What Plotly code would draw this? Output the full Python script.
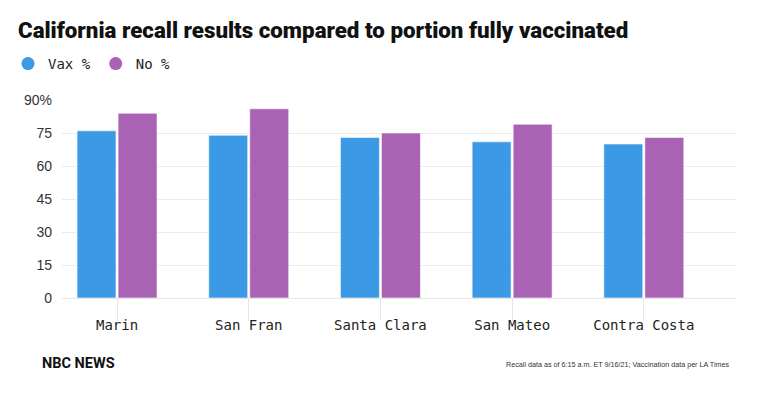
import plotly.graph_objects as go

counties = ["Marin", "San Fran", "Santa Clara", "San Mateo", "Contra Costa"]
vax_pct = [76, 74, 73, 71, 70]
no_pct = [84, 86, 75, 79, 73]
y_ticks = [0, 15, 30, 45, 60, 75, 90]
y_tick_labels = ["0", "15", "30", "45", "60", "75", "90%"]

BLUE = "#3b99e5"
PURPLE = "#a962b4"
MONO = "DejaVu Sans Mono"
SANS = "Liberation Sans"

# page body has an 8px margin; figure is sized/positioned to compensate
OFF = 8
W, H = 760 - 2 * OFF, 399 - 2 * OFF
L, R, T, B = 62 - OFF, 760 - 736 - OFF, 100 - OFF, 399 - 298 - OFF

def cx(p):
    return (p - OFF) / W

def cy(p):
    return 1 - (p - OFF) / H

fig = go.Figure()
fig.add_trace(go.Bar(x=counties, y=vax_pct, name="Vax %", marker_color=BLUE,
                     marker_line=dict(color="rgba(255,255,255,0.6)", width=1),
                     showlegend=False))
fig.add_trace(go.Bar(x=counties, y=no_pct, name="No %", marker_color=PURPLE,
                     marker_line=dict(color="rgba(255,255,255,0.6)", width=1),
                     showlegend=False))
for nm, col in [("Vax %", BLUE), ("No %", PURPLE)]:
    fig.add_trace(go.Scatter(x=[None], y=[None], mode="markers", name=nm,
                             marker=dict(color=col, size=13, symbol="circle")))

fig.update_layout(
    template="none",
    width=W, height=H,
    margin=dict(l=L, r=R, t=T, b=B, pad=0, autoexpand=False),
    paper_bgcolor="white", plot_bgcolor="white",
    barmode="group", bargap=0.377, bargroupgap=0.05,
    title=dict(text="California recall results compared to portion fully vaccinated",
               x=cx(18), xanchor="left", xref="container",
               y=cy(30), yanchor="middle", yref="container",
               font=dict(family="Roboto", size=22.3, color="#111", weight=900)),
    legend=dict(orientation="h", x=cx(0), xanchor="left", y=cy(64), yanchor="middle",
                xref="container", yref="container",
                font=dict(family=MONO, size=14, color="#222"), itemwidth=30,
                bgcolor="rgba(0,0,0,0)", borderwidth=0),
    xaxis=dict(range=[-0.418, 4.70], showgrid=False, ticks="outside", ticklen=22,
               tickcolor="#e6e6e6", tickwidth=1, ticklabelstandoff=-8,
               tickfont=dict(family=MONO, size=14, color="#222"), zeroline=False,
               showline=False, automargin=False),
    yaxis=dict(range=[0, 90], tickvals=y_ticks, ticktext=y_tick_labels,
               showgrid=True, gridcolor="#ebebeb", gridwidth=1,
               zeroline=True, zerolinecolor="#e6e6e6", zerolinewidth=1,
               ticks="", ticklabelstandoff=9, automargin=False, showline=False,
               tickfont=dict(family=SANS, size=14, color="#333")),
    annotations=[
        dict(text="<b>NBC NEWS</b>", x=cx(40), y=cy(363), xref="paper", yref="paper",
             xanchor="left", yanchor="middle", showarrow=False,
             font=dict(family="Roboto", size=14.5, color="#111")),
        dict(text="Recall data as of 6:15 a.m. ET 9/16/21; Vaccination data per LA Times",
             x=cx(731), y=cy(364), xref="paper", yref="paper",
             xanchor="right", yanchor="middle", showarrow=False,
             font=dict(family="Liberation Sans", size=7.2, color="#333")),
    ],
)
# annotations placed in container-fraction coordinates converted to paper
for a in fig.layout.annotations:
    pw = W - L - R
    ph = H - T - B
    a.x = (a.x * W - L) / pw
    a.y = (a.y * H - B) / ph

fig.write_html("out.html")
